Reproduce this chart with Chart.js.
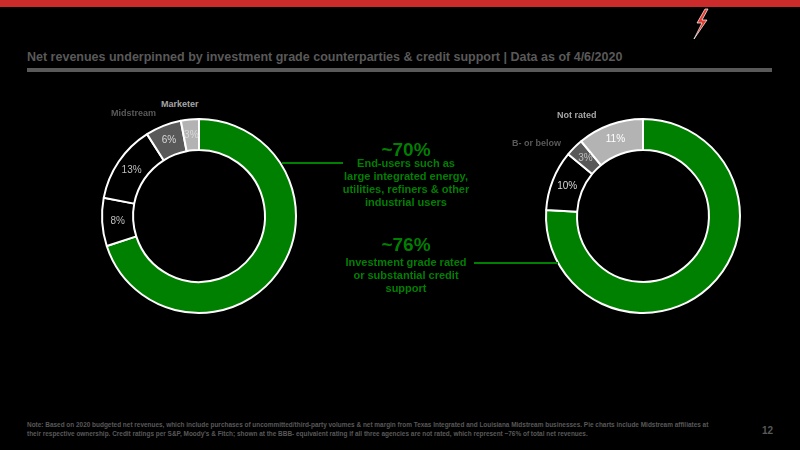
<!DOCTYPE html>
<html>
<head>
<meta charset="utf-8">
<script src="https://cdn.jsdelivr.net/npm/chart.js@4.4.0/dist/chart.umd.min.js"></script>
<style>
  html, body { margin: 0; padding: 0; background: #000; }
  #page { position: relative; width: 800px; height: 450px; overflow: hidden; background: #000;
          font-family: "Liberation Sans", Arial, sans-serif; }
  .abs { position: absolute; white-space: nowrap; }
  .title { left: 27px; top: 48px; font-size: 12.5px; font-weight: bold; color: #595959; line-height: 18px; }
  .big { font-size: 19px; font-weight: bold; color: #008000; text-align: center; line-height: 20px; width: 180px; }
  .body { font-size: 11px; font-weight: bold; color: #008000; text-align: center; line-height: 13px; width: 180px; }
  .seg { font-size: 9px; font-weight: bold; line-height: 10px; }
  .note { left: 27px; top: 420px; font-size: 6.45px; font-weight: bold; color: #595959; line-height: 9px; }
  .gline { height: 2px; background: #008000; }
</style>
</head>
<body>
<div id="page">
  <div class="abs" style="left:0;top:0;width:800px;height:7px;background:#cc2b2b"></div>
  <svg class="abs" style="left:690px;top:8px" width="24" height="34" viewBox="0 0 24 34">
    <polygon points="15,1 7,15 12,15 4,31 17,12 12,12 18,1" fill="#e23a30" stroke="#fff" stroke-width="0.7"/>
  </svg>

  <div class="abs title">Net revenues underpinned by investment grade counterparties &amp; credit support | Data as of 4/6/2020</div>
  <div class="abs" style="left:27px;top:68px;width:745px;height:4px;background:#595959"></div>

  <canvas id="leftChart" class="abs" width="200" height="200" style="left:99px;top:116px"></canvas>
  <canvas id="rightChart" class="abs" width="200" height="200" style="left:543px;top:116px"></canvas>

  <div class="abs seg" style="left:161px;top:99px;color:#a6a6a6">Marketer</div>
  <div class="abs seg" style="left:111px;top:108px;color:#595959">Midstream</div>
  <div class="abs seg" style="left:557px;top:110px;color:#a6a6a6">Not rated</div>
  <div class="abs seg" style="left:512px;top:138px;color:#595959">B- or below</div>

  <div class="abs gline" style="left:282px;top:162px;width:61px"></div>
  <div class="abs gline" style="left:474px;top:262px;width:84px"></div>

  <div class="abs big" style="left:316px;top:140px">~70%</div>
  <div class="abs body" style="left:316px;top:157px">End-users such as<br>large integrated energy,<br>utilities, refiners &amp; other<br>industrial users</div>
  <div class="abs big" style="left:316px;top:235px">~76%</div>
  <div class="abs body" style="left:316px;top:256px">Investment grade rated<br>or substantial credit<br>support</div>

  <div class="abs note">Note: Based on 2020 budgeted net revenues, which include purchases of uncommitted/third-party volumes &amp; net margin from Texas Integrated and Louisiana Midstream businesses. Pie charts include Midstream affiliates at<br>their respective ownership. Credit ratings per S&amp;P, Moody's &amp; Fitch; shown at the BBB- equivalent rating if all three agencies are not rated, which represent ~76% of total net revenues.</div>
  <div class="abs" style="left:762px;top:425px;font-size:10px;font-weight:bold;color:#595959">12</div>
</div>

<script>
// Left donut: counterparty type
const leftCategories = ["End-users", "Producer", "Other", "Midstream", "Marketer"];
const leftValues = [70, 8, 13, 6, 3];

// Right donut: credit rating
const rightCategories = ["Investment grade", "BB", "B- or below", "Not rated"];
const rightValues = [76, 10, 3, 11];

const GREEN = "#008000";

// percent labels inside the ring (skip the big green slice)
const sliceLabels = {
  id: "sliceLabels",
  afterDatasetsDraw(chart, args, opts) {
    const ctx = chart.ctx;
    const meta = chart.getDatasetMeta(0);
    const vals = chart.data.datasets[0].data;
    ctx.save();
    ctx.font = "10px 'Liberation Sans', Arial, sans-serif";
    ctx.textAlign = "center";
    ctx.textBaseline = "middle";
    meta.data.forEach(function (arc, i) {
      if (i === 0) return;
      const p = arc.tooltipPosition();
      ctx.fillStyle = opts.colors[i];
      ctx.fillText(vals[i] + "%", p.x, p.y);
    });
    ctx.restore();
  },
};

function makeDonut(id, labels, values, colors, textColors) {
  const ctx = document.getElementById(id).getContext("2d");
  return new Chart(ctx, {
    type: "doughnut",
    data: {
      labels: labels,
      datasets: [
        {
          data: values,
          backgroundColor: colors,
          borderColor: "#ffffff",
          borderWidth: 2,
        },
      ],
    },
    options: {
      responsive: false,
      animation: false,
      cutout: "68%",
      layout: { padding: 2 },
      plugins: {
        legend: { display: false },
        tooltip: { enabled: false },
        sliceLabels: { colors: textColors },
      },
    },
    plugins: [sliceLabels],
  });
}

makeDonut("leftChart", leftCategories, leftValues,
  [GREEN, "#000000", "#000000", "#595959", "#b3b3b3"],
  ["#fff", "#bfbfbf", "#bfbfbf", "#d9d9d9", "#d9d9d9"]);

makeDonut("rightChart", rightCategories, rightValues,
  [GREEN, "#000000", "#595959", "#b3b3b3"],
  ["#fff", "#d9d9d9", "#bfbfbf", "#ffffff"]);
</script>
</body>
</html>
